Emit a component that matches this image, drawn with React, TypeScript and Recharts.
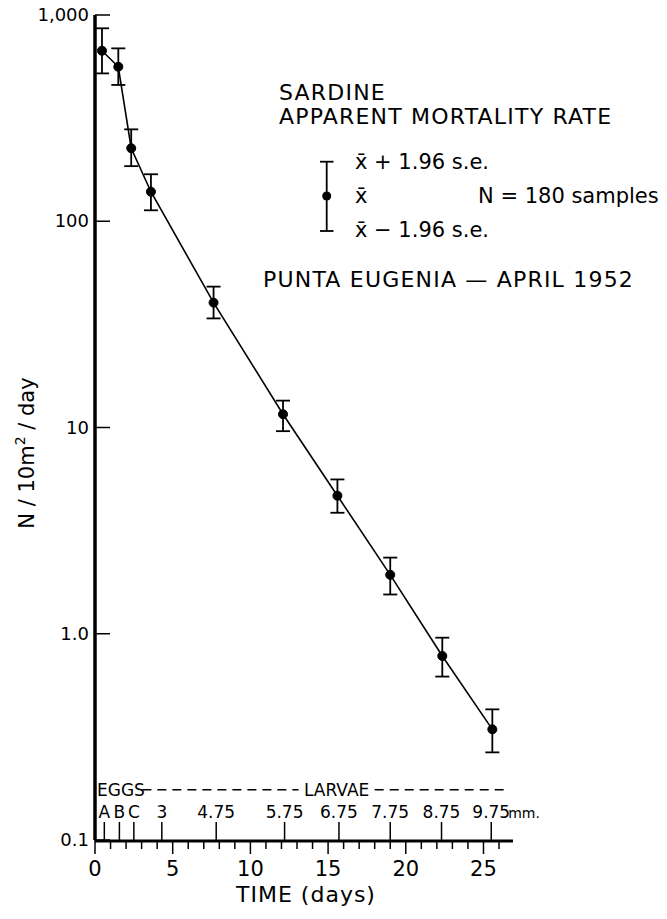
import React from "react";
import { ComposedChart, Line, XAxis, YAxis, ErrorBar, ReferenceLine } from "recharts";

// sampling times (days) and larval abundance, N / 10 m^2 / day
const days = [0.45, 1.5, 2.33, 3.6, 7.63, 12.1, 15.6, 19.0, 22.35, 25.57];
const meanN = [671, 561, 226, 139, 40.3, 11.6, 4.67, 1.93, 0.78, 0.344];
const upperN = [862, 689, 279, 169, 48.2, 13.5, 5.6, 2.34, 0.957, 0.43];
const lowerN = [521, 458, 185, 113, 33.8, 9.6, 3.86, 1.55, 0.62, 0.266];

const yTicks = [0.1, 1, 10, 100, 1000];
const yTickLabels = ["0.1", "1.0", "10", "100", "1,000"];

const dayTicks = [0, 1, 2, 3, 4, 5, 6, 7, 8, 9, 10, 11, 12, 13, 14, 15, 16, 17, 18, 19, 20, 21, 22, 23, 24, 25, 26];
const dayLabels = [0, 5, 10, 15, 20, 25];

// egg stages / larval length (mm) marked along the time axis
const sizeTickDays = [0.6, 1.57, 2.5, 4.3, 7.8, 12.2, 15.7, 19.0, 22.3, 25.5];
const sizeTickLabels = ["A", "B", "C", "3", "4.75", "5.75", "6.75", "7.75", "8.75", "9.75"];

const data = days.map((d, i) => ({
  day: d,
  n: meanN[i],
  err: [meanN[i] - lowerN[i], upperN[i] - meanN[i]],
}));

const FONT = "'DejaVu Sans', sans-serif";
const STAGE_LEVEL = 0.175;
const AXIS_Y = 840;

const NTick = (props: any) => {
  const { x, y, payload } = props;
  const label = yTickLabels[yTicks.indexOf(payload.value)];
  return (
    <g>
      <line x1={x + 5} x2={x + 20} y1={y} y2={y} stroke="#000" strokeWidth={1.5} />
      <text x={x - 1} y={y + 6} textAnchor="end" fontSize={18} fontFamily={FONT} fill="#000">
        {label}
      </text>
    </g>
  );
};

const DayTick = (props: any) => {
  const { x, payload } = props;
  const y = AXIS_Y;
  const major = dayLabels.includes(payload.value);
  return (
    <g>
      <line x1={x} x2={x} y1={y} y2={y + (major ? 14 : 9)} stroke="#000" strokeWidth={1.5} />
      {major && (
        <text x={x} y={y + 36} textAnchor="middle" fontSize={21} fontFamily={FONT} fill="#000">
          {payload.value}
        </text>
      )}
    </g>
  );
};

const SizeTick = (props: any) => {
  const { x, payload } = props;
  const y = AXIS_Y;
  const i = sizeTickDays.indexOf(payload.value);
  const label = sizeTickLabels[i];
  const last = i === sizeTickLabels.length - 1;
  return (
    <g>
      <line x1={x} x2={x} y1={y} y2={y - 18} stroke="#000" strokeWidth={1.5} />
      <text x={x} y={y - 22} textAnchor="middle" fontSize={17} fontFamily={FONT} fill="#000">
        {label}
      </text>
      {last && (
        <text x={x + 17} y={y - 22} textAnchor="start" fontSize={14} fontFamily={FONT} fill="#000">
          mm.
        </text>
      )}
    </g>
  );
};

export default function App() {
  return (
    <div style={{ position: "absolute", left: 0, top: 0, width: 667, height: 919, background: "#fff" }}>
      <ComposedChart
        width={667}
        height={919}
        data={data}
        margin={{ top: 15, right: 154, bottom: 77, left: 94 }}
      >
        <XAxis
          xAxisId="t"
          dataKey="day"
          type="number"
          domain={[0, 26.9]}
          allowDataOverflow
          ticks={dayTicks}
          interval={0}
          height={1}
          tickSize={0}
          tickMargin={0}
          tickLine={false}
          axisLine={{ stroke: "#000", strokeWidth: 3 }}
          tick={<DayTick />}
        />
        <XAxis
          xAxisId="size"
          dataKey="day"
          type="number"
          domain={[0, 26.9]}
          allowDataOverflow
          ticks={sizeTickDays}
          interval={0}
          height={1}
          tickSize={0}
          tickMargin={0}
          tickLine={false}
          axisLine={false}
          tick={<SizeTick />}
        />
        <YAxis
          type="number"
          scale="log"
          domain={[0.1, 1000]}
          allowDataOverflow
          ticks={yTicks}
          interval={0}
          width={1}
          tickSize={0}
          tickMargin={5}
          tickLine={false}
          axisLine={{ stroke: "#000", strokeWidth: 3.5 }}
          tick={<NTick />}
        />
        <ReferenceLine
          xAxisId="t"
          segment={[{ x: 3.05, y: STAGE_LEVEL }, { x: 13.1, y: STAGE_LEVEL }]}
          stroke="#000"
          strokeWidth={1.5}
          strokeDasharray="9 6"
        />
        <ReferenceLine
          xAxisId="t"
          segment={[{ x: 18.0, y: STAGE_LEVEL }, { x: 26.3, y: STAGE_LEVEL }]}
          stroke="#000"
          strokeWidth={1.5}
          strokeDasharray="9 6"
        />
        <Line
          xAxisId="t"
          dataKey="n"
          type="linear"
          stroke="#000"
          strokeWidth={1.6}
          dot={{ r: 4.5, fill: "#000", stroke: "#000", strokeWidth: 1 }}
          isAnimationActive={false}
        >
          <ErrorBar dataKey="err" direction="y" width={7} stroke="#000" strokeWidth={1.8} />
        </Line>
      </ComposedChart>

      <svg
        width={667}
        height={919}
        style={{ position: "absolute", left: 0, top: 0, pointerEvents: "none" }}
        fontFamily={FONT}
        fill="#000"
      >
        <text x={279} y={100} fontSize={22} letterSpacing={1.2}>SARDINE</text>
        <text x={279} y={124} fontSize={22} letterSpacing={1.2}>APPARENT MORTALITY RATE</text>

        <line x1={326.7} x2={326.7} y1={161.7} y2={231} stroke="#000" strokeWidth={1.8} />
        <line x1={320} x2={333.5} y1={161.7} y2={161.7} stroke="#000" strokeWidth={1.8} />
        <line x1={320} x2={333.5} y1={231} y2={231} stroke="#000" strokeWidth={1.8} />
        <circle cx={326.7} cy={196} r={4.5} fill="#000" />
        <text x={355} y={169} fontSize={21}>x̄ + 1.96 s.e.</text>
        <text x={355} y={203} fontSize={21}>x̄</text>
        <text x={478} y={203} fontSize={21}>N = 180 samples</text>
        <text x={355} y={237} fontSize={21}>x̄ − 1.96 s.e.</text>

        <text x={263} y={287} fontSize={22} letterSpacing={1.2}>PUNTA EUGENIA — APRIL 1952</text>

        <text x={97} y={796} fontSize={17}>EGGS</text>
        <text x={304} y={796} fontSize={17}>LARVAE</text>

        <text x={306} y={902} fontSize={22} textAnchor="middle" letterSpacing={1}>TIME (days)</text>

        <text transform="translate(34,453) rotate(-90)" fontSize={21} textAnchor="middle">
          N / 10m<tspan fontSize={14} dy={-9}>2</tspan>
          <tspan dy={9}> / day</tspan>
        </text>
      </svg>
    </div>
  );
}
